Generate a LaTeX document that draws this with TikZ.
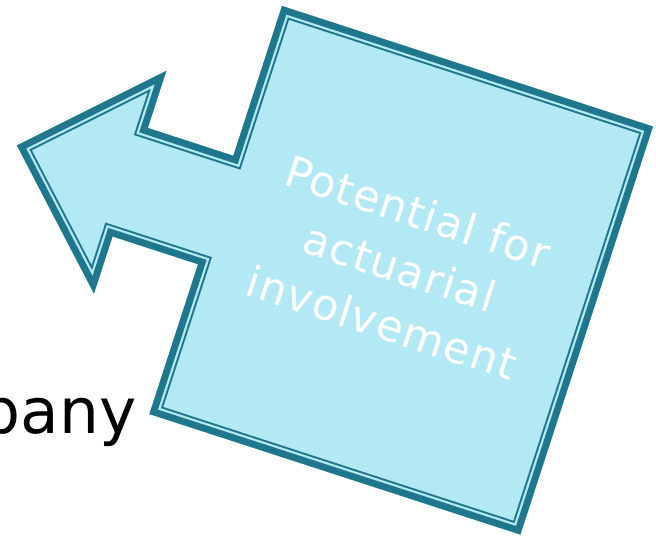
\documentclass[tikz,border=0pt]{standalone}
\usepackage{fontspec}
\setmainfont{DejaVu Sans}
\newfontfamily\calloutfont[LetterSpace=3]{DejaVu Sans}
\usepackage{tikz}
\definecolor{calloutfill}{HTML}{B3E9F4}
\definecolor{calloutline}{HTML}{1E778C}
\tikzstyle{testonero} = [inner sep=0pt,text=black,font=\fontsize{63}{75}\selectfont]
\tikzstyle{testobianco} = [inner sep=0pt,text=white,align=center,font=\calloutfont\fontsize{43}{58}\selectfont]
\tikzstyle{bordo} = [calloutline,line join=miter]

\begin{document}
\begin{tikzpicture}[x=1pt,y=-1pt]
\useasboundingbox (0,0) rectangle (656,536);
\clip (0,0) rectangle (656,536);

\node (pany) [testonero,anchor=base east] at (137,433) {pany};

% callout: box with a left arrow, in its own turned frame
\begin{scope}[shift={(282,6)},rotate=-18]
\def\callout{(0,0) -- (390,0) -- (390,429) -- (0,429) -- (0,271.5) -- (-90,271.5) -- (-90,331.5) -- (-209,214.5) -- (-90,97.5) -- (-90,157.5) -- (0,157.5) -- cycle}
\fill[calloutfill] \callout;
\begin{scope}
\clip \callout;
\draw[bordo,line width=22pt] \callout; % thin inner line
\draw[calloutfill,line join=miter,line width=18pt] \callout;
\draw[bordo,line width=13.5pt] \callout; % thick outer line
\end{scope}
\node (testo) [testobianco,rotate=-18] at (193,212) {Potential for\\actuarial\\involvement};
\end{scope}

\end{tikzpicture}
\end{document}
